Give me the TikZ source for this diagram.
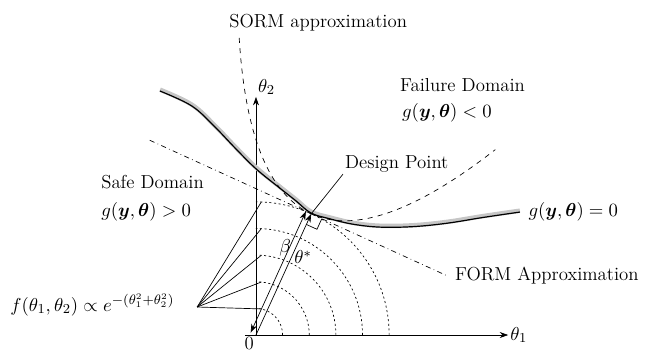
\documentclass[tikz,border=0pt]{standalone}
\usepackage{amsmath,amssymb}
\usetikzlibrary{
    arrows.meta,
    calc
}

\begin{document}
\begin{tikzpicture}[
    >={Stealth[length=5pt,width=3.5pt]},
    every node/.style={
        font=\fontsize{11pt}{13pt}\selectfont
    },
    lbl/.style={
        anchor=west,
        inner sep=0pt
    },
    circ/.style={
        dash pattern=on 1.2pt off 1.5pt
    },
    shade/.style={
        line width=2.6pt,
        gray!45
    }
]

    \useasboundingbox (-5.267,-0.288) rectangle (8.066,6.893);

    % Origin and design point
    \coordinate (O) at (0,0);
    \coordinate (D) at (65.5:2.74);

    % Axes
    \coordinate (xa) at (-0.23,0);
    \coordinate (xb) at (5.19,0);
    \coordinate (ya) at (0,4.90);

    \draw[->] (xa) -- (xb);
    \draw[->] (O) -- (ya);

    \node[anchor=west, inner sep=1pt] (th1) at (xb) {$\theta_1$};
    \node[anchor=south west, inner sep=1pt] (th2) at (ya) {$\theta_2$};
    \node[anchor=north east, inner sep=1pt] (zero) at (O) {0};

    % Contours of the standard normal density
    \foreach \k in {1,...,5}
        \draw[circ]
            (0.548*\k,0)
            arc[start angle=0, end angle=90, radius=0.548*\k];

    % Density label and its pointers
    \coordinate (fp) at (-1.21,0.576);
    \node[lbl] (dens) at (-5.06,0.62)
        {$f(\theta_1,\theta_2)\propto e^{-(\theta_1^2+\theta_2^2)}$};

    \foreach \k in {1,...,5} {
        \coordinate (a\k) at ({0.11},{sqrt((0.548*\k)^2-0.0121)});
        \draw (fp) -- (a\k);
    }

    % Limit state surface g = 0
    \draw[shade, yshift=0.8pt]
        plot[smooth, tension=0.6] coordinates {
            (-1.975,5.02) (-1.317,4.71) (-0.844,4.28) (-0.432,3.85)
            (0,3.42) (0.494,3.02) (0.823,2.76) (1.132,2.51)
            (1.523,2.39) (1.996,2.28) (2.551,2.22) (3.23,2.23)
            (3.93,2.30) (4.68,2.42) (5.43,2.53)
        };
    \draw[line width=0.7pt]
        plot[smooth, tension=0.6] coordinates {
            (-1.975,5.02) (-1.317,4.71) (-0.844,4.28) (-0.432,3.85)
            (0,3.42) (0.494,3.02) (0.823,2.76) (1.132,2.51)
            (1.523,2.39) (1.996,2.28) (2.551,2.22) (3.23,2.23)
            (3.93,2.30) (4.68,2.42) (5.43,2.53)
        };

    % SORM and FORM approximations at the design point
    \begin{scope}[shift={(D)}, rotate=-24.5]
        \draw[dashed]
            plot[domain=-2.85:2.9, samples=60, smooth]
            (\x,{0.33*\x*\x});

        \coordinate (fa) at (-3.65,0);
        \coordinate (fb) at (3.05,0);
        \draw[dash dot] (fa) -- (fb);

        % right angle mark
        \draw (0,-0.24) -- (0.24,-0.24) -- (0.24,0);
    \end{scope}

    % Reliability index and design point vector
    \coordinate (Ob) at ($(O)+(155.5:0.12)$);
    \coordinate (Db) at ($(D)+(155.5:0.12)$);

    \draw[->] (O) -- (D);
    \draw[<->] (Ob) -- (Db);

    \node (beta) at (0.60,1.79) {$\beta$};
    \node (thstar) at (0.97,1.60) {$\theta^*$};

    % Design point label
    \node[anchor=south west, inner sep=1pt] (dpl) at (1.79,3.31)
        {Design Point};
    \draw (D) -- (dpl.south west);

    % Domain labels
    \node[lbl] (safe) at (-3.19,3.15) {Safe Domain};
    \node[lbl] (safeg) at (-3.19,2.53)
        {$g(\boldsymbol{y},\boldsymbol{\theta})>0$};

    \node[lbl] (fail) at (2.96,5.14) {Failure Domain};
    \node[lbl] (failg) at (3.0,4.57)
        {$g(\boldsymbol{y},\boldsymbol{\theta})<0$};

    \node[lbl] (limg) at (5.60,2.53)
        {$g(\boldsymbol{y},\boldsymbol{\theta})=0$};

    \node[lbl] (form) at (4.09,1.23) {FORM Approximation};
    \node (sorm) at (1.28,6.42) {SORM approximation};

\end{tikzpicture}
\end{document}
